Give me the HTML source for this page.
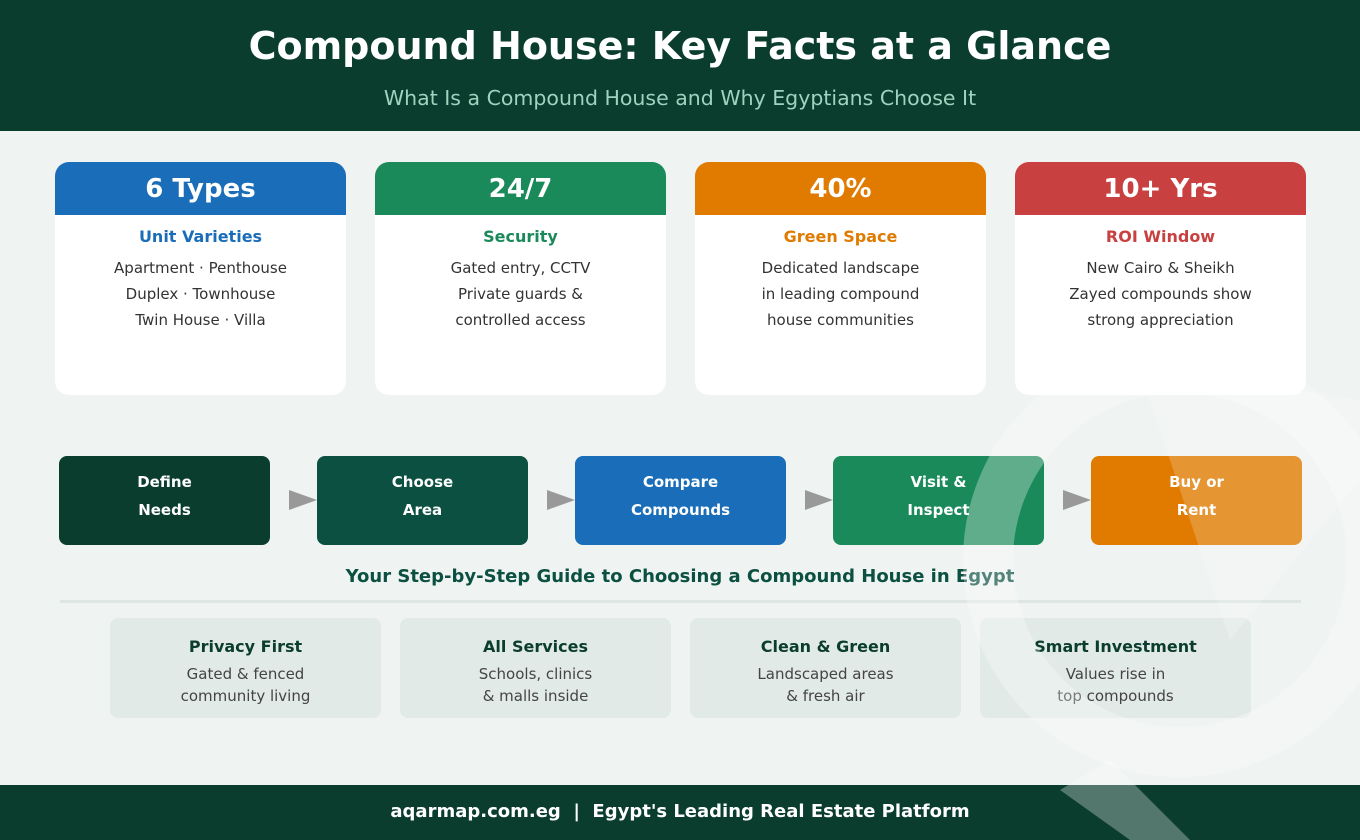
<!DOCTYPE html>
<html><head><meta charset="utf-8"><style>
*{margin:0;padding:0;box-sizing:border-box}
body{width:1360px;height:840px;background:#eff3f2;font-family:"DejaVu Sans","Liberation Sans",sans-serif;position:relative;overflow:hidden}
.hdr{position:absolute;left:0;top:0;width:1360px;height:131px;background:#0a3d2e;text-align:center;color:#fff}
.hdr h1{position:absolute;top:24px;width:100%;font-size:38px;font-weight:bold}
.hdr p{position:absolute;top:86px;width:100%;font-size:20.5px;color:#9fd3bf}
.card{position:absolute;top:162px;width:291px;height:233px;background:#fff;border-radius:14px;overflow:hidden;text-align:center}
.card .t{height:53px;color:#fff;font-size:26px;font-weight:bold;line-height:53px;padding-top:1px}
.card .s{font-size:16px;font-weight:bold;margin-top:12px}
.card .d{font-size:15px;color:#333;line-height:26px;margin-top:9px}
.fb{position:absolute;top:456px;width:211px;height:89px;border-radius:8px;color:#fff;font-weight:bold;font-size:15px;text-align:center;line-height:28px;padding-top:12px}
.ar{position:absolute;top:490px;width:0;height:0;border-top:10px solid transparent;border-bottom:10px solid transparent;border-left:28px solid #999}
.bn{position:absolute;top:618px;width:271px;height:100px;background:#e1eae6;border-radius:8px;text-align:center}
.bn .a{font-size:16px;font-weight:bold;color:#0a3d2e;margin-top:19px}
.bn .b{font-size:15px;color:#444;line-height:22px;margin-top:7px}
.ftr{position:absolute;left:0;top:785px;width:1360px;height:55px;background:#0a3d2e;color:#fff;font-size:18px;font-weight:bold;text-align:center;line-height:54px}
</style></head><body>
<div class="hdr"><h1>Compound House: Key Facts at a Glance</h1><p>What Is a Compound House and Why Egyptians Choose It</p></div>

<div class="card" style="left:55px"><div class="t" style="background:#1a6db8">6 Types</div><div class="s" style="color:#1a6db8">Unit Varieties</div><div class="d">Apartment · Penthouse<br>Duplex · Townhouse<br>Twin House · Villa</div></div>
<div class="card" style="left:375px"><div class="t" style="background:#1b8a5a">24/7</div><div class="s" style="color:#1b8a5a">Security</div><div class="d">Gated entry, CCTV<br>Private guards &amp;<br>controlled access</div></div>
<div class="card" style="left:695px"><div class="t" style="background:#e07b00">40%</div><div class="s" style="color:#e07b00">Green Space</div><div class="d">Dedicated landscape<br>in leading compound<br>house communities</div></div>
<div class="card" style="left:1015px"><div class="t" style="background:#c94040">10+ Yrs</div><div class="s" style="color:#c94040">ROI Window</div><div class="d">New Cairo &amp; Sheikh<br>Zayed compounds show<br>strong appreciation</div></div>

<div class="fb" style="left:59px;background:#0a3d2e">Define<br>Needs</div>
<div class="ar" style="left:289px"></div>
<div class="fb" style="left:317px;background:#0b5040">Choose<br>Area</div>
<div class="ar" style="left:547px"></div>
<div class="fb" style="left:575px;background:#1a6db8">Compare<br>Compounds</div>
<div class="ar" style="left:805px"></div>
<div class="fb" style="left:833px;background:#1b8a5a">Visit &amp;<br>Inspect</div>
<div class="ar" style="left:1063px"></div>
<div class="fb" style="left:1091px;background:#e07b00">Buy or<br>Rent</div>

<div style="position:absolute;top:566px;width:1360px;text-align:center;font-size:18px;font-weight:bold;color:#0b5040">Your Step-by-Step Guide to Choosing a Compound House in Egypt</div>
<div style="position:absolute;left:60px;top:600px;width:1241px;height:3px;background:#dde6e3"></div>

<div class="bn" style="left:110px"><div class="a">Privacy First</div><div class="b">Gated &amp; fenced<br>community living</div></div>
<div class="bn" style="left:400px"><div class="a">All Services</div><div class="b">Schools, clinics<br>&amp; malls inside</div></div>
<div class="bn" style="left:690px"><div class="a">Clean &amp; Green</div><div class="b">Landscaped areas<br>&amp; fresh air</div></div>
<div class="bn" style="left:980px"><div class="a">Smart Investment</div><div class="b">Values rise in<br>top compounds</div></div>

<div class="ftr">aqarmap.com.eg &nbsp;|&nbsp; Egypt's Leading Real Estate Platform</div>

<svg style="position:absolute;left:0;top:0" width="1360" height="840">
<circle cx="1180" cy="560" r="192" fill="none" stroke="#fff" stroke-opacity="0.3" stroke-width="50"/>
<path d="M1130 365 L1360 400 L1360 480 L1230 640 L1150 400 Z" fill="#fff" fill-opacity="0.2"/>
<path d="M1060 790 L1130 840 L1190 840 L1110 760 Z" fill="#fff" fill-opacity="0.3"/>
</svg>
</body></html>
